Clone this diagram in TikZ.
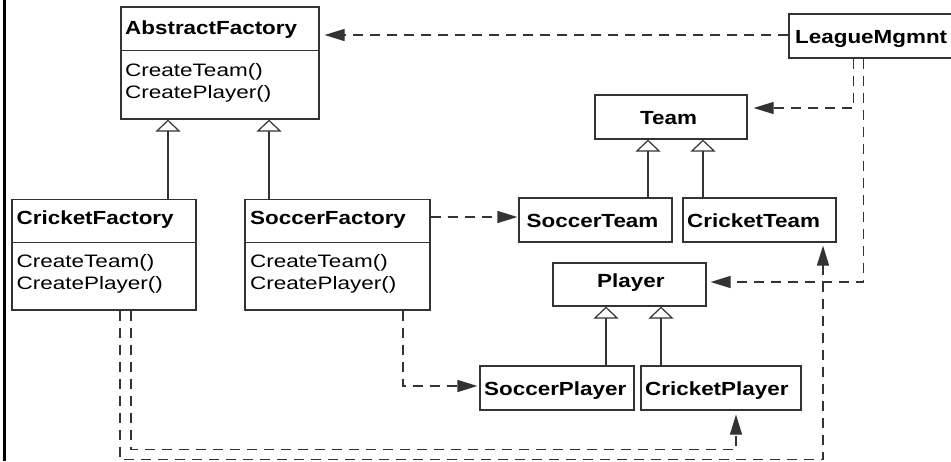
\documentclass[tikz,border=0pt]{standalone}
\usepackage{fontspec}
\setmainfont{Liberation Sans}[FakeStretch=1.25]
\newfontfamily\namefont{Liberation Sans}[FakeStretch=1.18]
\usetikzlibrary{arrows.meta,calc}

\tikzset{
  classbox/.style={draw=black!80, line width=1.2pt, inner sep=0pt, fill=white},
  lbl/.style={inner sep=0pt, anchor=west, text height=13.6pt, text depth=0pt,
              font=\namefont\fontsize{19pt}{22pt}\selectfont\bfseries},
  meth/.style={inner sep=0pt, anchor=west, text height=13pt, text depth=0pt,
              font=\fontsize{18pt}{21pt}\selectfont},
  dep/.style={draw=black!80, line width=1.2pt, dash pattern=on 10pt off 7pt,
              -{Triangle[length=20pt,width=12pt]}},
  inherit/.style={draw=black!80, line width=1.2pt,
              -{Triangle[open,length=12pt,width=25pt,fill=white]}},
  sepline/.style={draw=black!80, line width=1.2pt},
}

\begin{document}
\begin{tikzpicture}[x=1pt, y=-1pt]
\useasboundingbox (0,0) rectangle (951,461);
\clip (0,0) rectangle (951,461);
\fill[white] (0,0) rectangle (951,461);

% left frame rule
\draw[line width=2.5pt] (4.5,0) -- (4.5,461);

% class boxes
\node[classbox, minimum width=198pt, minimum height=112pt] (af) at (220,63) {};
\node[classbox, minimum width=173pt, minimum height=44pt] (lm) at (875.5,36) {};
\node[classbox, minimum width=152pt, minimum height=44pt] (team) at (671,117) {};
\node[classbox, minimum width=184pt, minimum height=110.5pt] (cf) at (104,254.75) {};
\node[classbox, minimum width=185pt, minimum height=110.5pt] (sf) at (337.5,254.75) {};
\node[classbox, minimum width=153pt, minimum height=44pt] (st) at (595.5,220) {};
\node[classbox, minimum width=153pt, minimum height=44pt] (ct) at (759.5,220) {};
\node[classbox, minimum width=153pt, minimum height=43pt] (pl) at (629.5,284.5) {};
\node[classbox, minimum width=154pt, minimum height=44pt] (sp) at (557,388) {};
\node[classbox, minimum width=160pt, minimum height=44pt] (cp) at (721,388) {};

% compartment separators
\draw[sepline] ([yshift=-44pt]af.north west) -- ([yshift=-44pt]af.north east);
\draw[sepline] ([yshift=-43.5pt]cf.north west) -- ([yshift=-43.5pt]cf.north east);
\draw[sepline] ([yshift=-43.5pt]sf.north west) -- ([yshift=-43.5pt]sf.north east);

% class names
\node[lbl] (af-name) at (125,27.2) {AbstractFactory};
\node[lbl] (lm-name) at (795,36.7) {LeagueMgmnt};
\node[lbl] (team-name) at (640,117.5) {Team};
\node[lbl] (cf-name) at (16.5,217.5) {CricketFactory};
\node[lbl] (sf-name) at (250,217.5) {SoccerFactory};
\node[lbl] (st-name) at (526.5,220.5) {SoccerTeam};
\node[lbl] (ct-name) at (687,220.5) {CricketTeam};
\node[lbl] (pl-name) at (597,281) {Player};
\node[lbl] (sp-name) at (484,389) {SoccerPlayer};
\node[lbl] (cp-name) at (645,389) {CricketPlayer};

% operations
\node[meth] (af-m1) at (125,70) {CreateTeam()};
\node[meth] (af-m2) at (125,91.5) {CreatePlayer()};
\node[meth] (cf-m1) at (16.5,261) {CreateTeam()};
\node[meth] (cf-m2) at (16.5,282.5) {CreatePlayer()};
\node[meth] (sf-m1) at (250,261) {CreateTeam()};
\node[meth] (sf-m2) at (250,282.5) {CreatePlayer()};

% generalisations
\draw[inherit] ([xshift=64pt]cf.north) -- ([xshift=64pt]cf.north |- af.south);
\draw[inherit] ([xshift=-68.5pt]sf.north) -- ([xshift=-68.5pt]sf.north |- af.south);
\draw[inherit] ([xshift=52.5pt]st.north) -- ([xshift=52.5pt]st.north |- team.south);
\draw[inherit] ([xshift=-56.5pt]ct.north) -- ([xshift=-56.5pt]ct.north |- team.south);
\draw[inherit] ([xshift=49pt]sp.north) -- ([xshift=49pt]sp.north |- pl.south);
\draw[inherit] ([xshift=-60pt]cp.north) -- ([xshift=-60pt]cp.north |- pl.south);

% dependencies
\draw[dep, shorten >=5pt] ([yshift=1pt]lm.west) -- ([yshift=1pt]lm.west -| af.east);
\draw[dep, shorten >=6pt] ([xshift=65pt]lm.south west) |- ([yshift=9pt]team.east);
\draw[dep, shorten >=4pt] ([xshift=75pt]lm.south west) |- ([yshift=2.5pt]pl.east);
\draw[dep, shorten >=1pt] ([yshift=37.75pt]sf.east) -- ([yshift=37.75pt]sf.east -| st.west);
\draw[dep, shorten >=2pt] ([xshift=65.5pt]sf.south) |- ([yshift=2pt]sp.west);
\draw[dep, shorten >=4pt] ([xshift=27pt]cf.south)
  |- ([xshift=15pt, yshift=-39pt]cp.south) -- ([xshift=15pt]cp.south);
\draw[dep, shorten >=3pt] ([xshift=16pt]cf.south)
  |- ([xshift=63.5pt, yshift=-217pt]ct.south) -- ([xshift=63.5pt]ct.south);
\end{tikzpicture}
\end{document}
